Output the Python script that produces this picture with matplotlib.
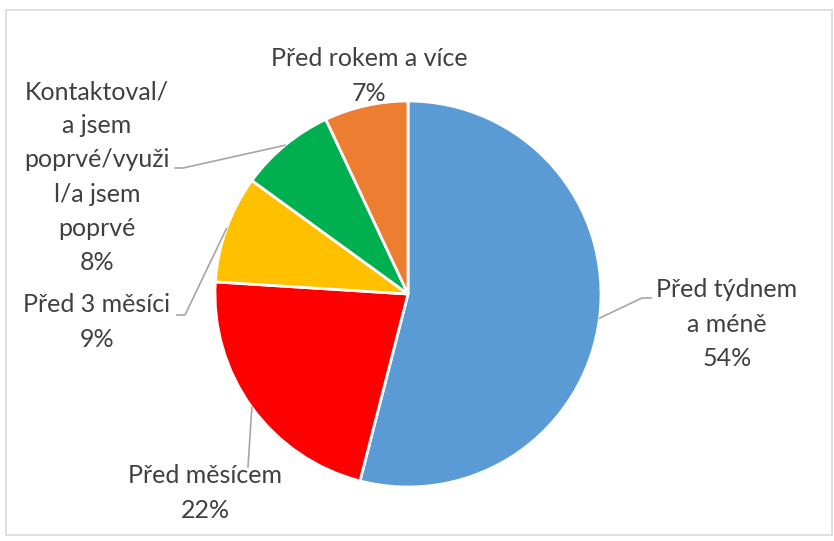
import numpy as np
import matplotlib.pyplot as plt

# data
labels = ["Před týdnem\na méně", "Před měsícem", "Před 3 měsíci",
          "Kontaktoval/\na jsem\npoprvé/využi\nl/a jsem\npoprvé", "Před rokem a více"]
values = [54, 22, 9, 8, 7]
colors = ["#5B9BD5", "#FF0000", "#FFC000", "#00B050", "#ED7D31"]

# label layout in pixels (x, y from top), and leader elbow points (None = no leader)
W, H = 834, 541
label_pos = [(727, 324), (205, 493), (97, 322), (97, 177), (369, 76)]
elbows = [[(642, 298), (651, 298)],
          [(248, 467)],
          [(185, 315), (177, 315)],
          [(183, 168), (175, 168)],
          None]

cx, cy, r = 408, H - 294, 193

fig = plt.figure(figsize=(W / 100, H / 100), dpi=100)
ax = fig.add_axes([0, 0, 1, 1])
wedges, _ = ax.pie(values, colors=colors, startangle=90, counterclock=False,
                   center=(cx, cy), radius=r,
                   wedgeprops=dict(edgecolor="white", linewidth=2))
ax.set_xlim(0, W)
ax.set_ylim(0, H)
ax.set_aspect("equal")
ax.axis("off")

# chart border
fig.patches.append(plt.Rectangle((6 / W, 6 / H), (W - 8) / W, (H - 16) / H,
                                 transform=fig.transFigure, fill=False,
                                 edgecolor="#D9D9D9", linewidth=1.2))

for w, lab, v, pos, elb in zip(wedges, labels, values, label_pos, elbows):
    ax.text(pos[0], H - pos[1], f"{lab}\n{v}%", ha="center", va="center",
            fontsize=18, color="#404040", family="Lato", linespacing=1.58)
    if elb is None:
        continue
    mid = np.deg2rad((w.theta1 + w.theta2) / 2)
    pts = [(cx + r * np.cos(mid), cy + r * np.sin(mid))] + [(x, H - y) for x, y in elb]
    xs, ys = zip(*pts)
    ax.plot(xs, ys, color="#A6A6A6", linewidth=1.2)

fig.savefig("out.png", dpi=100)
